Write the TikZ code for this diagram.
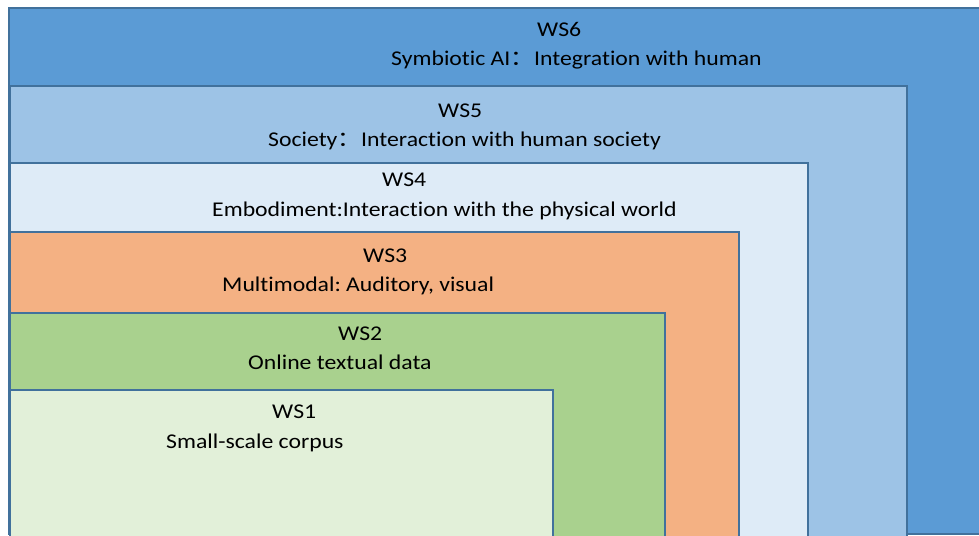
\documentclass[tikz,border=0pt]{standalone}
\usepackage{fontspec}
\setmainfont{Carlito}[Ligatures={NoCommon}]
\newfontfamily\cjkfont{Noto Sans CJK SC}
\frenchspacing
\definecolor{cws6}{HTML}{5B9BD5}
\definecolor{cws5}{HTML}{9DC3E6}
\definecolor{cws4}{HTML}{DEEBF7}
\definecolor{cws3}{HTML}{F4B183}
\definecolor{cws2}{HTML}{A9D18E}
\definecolor{cws1}{HTML}{E2F0D9}
\definecolor{edge}{HTML}{41719C}
\begin{document}
\begin{tikzpicture}[x=1bp,y=-1bp,
  layer/.style={draw=edge, line width=1.6bp, rectangle, inner sep=0pt, anchor=north west},
  lbl/.style={anchor=base west, inner sep=0pt, xscale=1.13, transform shape, font=\fontsize{21bp}{25bp}\selectfont\frenchspacing, text=black}]
\useasboundingbox (0,0) rectangle (979,536);
\node[layer, fill=cws6, minimum width=1000bp, minimum height=526bp] (ws6) at (8,7) {};
\node[layer, fill=cws5, minimum width=897bp, minimum height=470bp] (ws5) at (9,85) {};
\node[layer, fill=cws4, minimum width=798bp, minimum height=390bp] (ws4) at (9,162) {};
\node[layer, fill=cws3, minimum width=729bp, minimum height=320bp] (ws3) at (9,231) {};
\node[layer, fill=cws2, minimum width=655bp, minimum height=240bp] (ws2) at (9,312) {};
\node[layer, fill=cws1, minimum width=543bp, minimum height=170bp] (ws1) at (9,389) {};
\node[lbl] (t6a) at (537,37) {WS6};
\node[lbl] (t6b) at (391,66) {Symbiotic AI{\cjkfont ：}Integration with human};
\node[lbl] (t5a) at (438,118) {WS5};
\node[lbl] (t5b) at (268,147) {Society{\cjkfont ：}Interaction with human society};
\node[lbl] (t4a) at (382,187) {WS4};
\node[lbl] (t4b) at (212,217) {Embodiment:Interaction with the physical world};
\node[lbl] (t3a) at (363,263) {WS3};
\node[lbl] (t3b) at (222,292) {Multimodal: Auditory, visual};
\node[lbl] (t2a) at (338,341) {WS2};
\node[lbl] (t2b) at (248,370) {Online textual data};
\node[lbl] (t1a) at (272,418) {WS1};
\node[lbl] (t1b) at (166,448) {Small-scale corpus};
\end{tikzpicture}
\end{document}
